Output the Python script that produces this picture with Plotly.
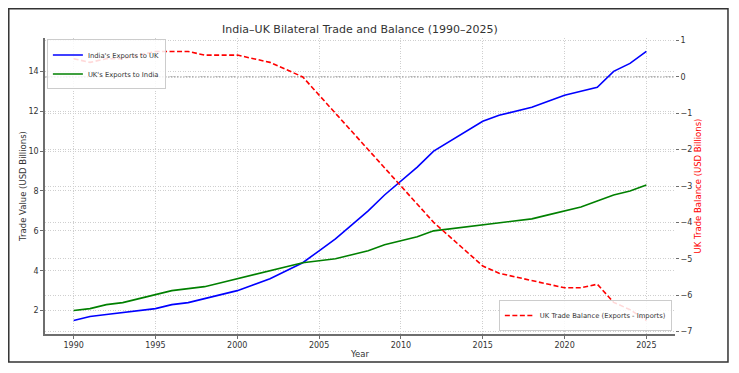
import plotly.graph_objects as go

years = list(range(1990, 2026))
india_exports = [1.5, 1.7, 1.8, 1.9, 2.0, 2.1, 2.3, 2.4, 2.6, 2.8,
                 3.0, 3.3, 3.6, 4.0, 4.4, 5.0, 5.6, 6.3, 7.0, 7.8,
                 8.5, 9.2, 10.0, 10.5, 11.0, 11.5, 11.8, 12.0, 12.2, 12.5,
                 12.8, 13.0, 13.2, 14.0, 14.4, 15.0]
uk_exports = [2.0, 2.1, 2.3, 2.4, 2.6, 2.8, 3.0, 3.1, 3.2, 3.4,
              3.6, 3.8, 4.0, 4.2, 4.4, 4.5, 4.6, 4.8, 5.0, 5.3,
              5.5, 5.7, 6.0, 6.1, 6.2, 6.3, 6.4, 6.5, 6.6, 6.8,
              7.0, 7.2, 7.5, 7.8, 8.0, 8.3]
uk_balance = [0.5, 0.4, 0.5, 0.5, 0.6, 0.7, 0.7, 0.7, 0.6, 0.6,
              0.6, 0.5, 0.4, 0.2, 0.0, -0.5, -1.0, -1.5, -2.0, -2.5,
              -3.0, -3.5, -4.0, -4.4, -4.8, -5.2, -5.4, -5.5, -5.6, -5.7,
              -5.8, -5.8, -5.7, -6.2, -6.4, -6.7]
x_ticks = [1990, 1995, 2000, 2005, 2010, 2015, 2020, 2025]
left_ticks = [2, 4, 6, 8, 10, 12, 14]
right_ticks = [-7, -6, -5, -4, -3, -2, -1, 0, 1]

FONT = "DejaVu Sans"
GRID = "#cfcfcf"
SPINE = "#6e6e6e"

fig = go.Figure()
fig.add_trace(go.Scatter(x=years, y=india_exports, mode="lines", name="India's Exports to UK",
                         line=dict(color="#0000ff", width=1.6), legend="legend"))
fig.add_trace(go.Scatter(x=years, y=uk_exports, mode="lines", name="UK's Exports to India",
                         line=dict(color="#008000", width=1.6), legend="legend"))
fig.add_trace(go.Scatter(x=years, y=uk_balance, mode="lines", name="UK Trade Balance (Exports - Imports)",
                         line=dict(color="#ff0000", width=1.6, dash="5px,2.5px"), yaxis="y2", legend="legend2"))

# page body has an 8px margin: figure is sized/offset to compensate
fig.update_layout(
    width=723, height=357,
    margin=dict(l=37, r=56, t=30, b=31, autoexpand=False),
    paper_bgcolor="white", plot_bgcolor="white",
    font=dict(family=FONT, size=8, color="#333333"),
    title=dict(text="India–UK Bilateral Trade and Balance (1990–2025)",
               font=dict(family=FONT, size=11, color="#333333"),
               x=0.5, xref="paper", xanchor="center",
               y=1, yref="paper", yanchor="bottom", pad=dict(b=5)),
    xaxis=dict(range=[1988.25, 2026.75], tickvals=x_ticks, showgrid=True, gridcolor=GRID,
               griddash="1px,1.5px", gridwidth=1, zeroline=False, showline=True, linecolor=SPINE,
               linewidth=1.5, ticks="outside", ticklen=3, tickcolor=SPINE, automargin=False,
               title=dict(text="Year", font=dict(size=8.5), standoff=2)),
    yaxis=dict(range=[0.825, 15.675], tickvals=left_ticks, showgrid=True, gridcolor=GRID,
               griddash="1px,1.5px", gridwidth=1, zeroline=False, showline=True, linecolor=SPINE,
               linewidth=1.5, ticks="outside", ticklen=3, tickcolor=SPINE, automargin=False,
               title=dict(text="Trade Value (USD Billions)", font=dict(size=8.5), standoff=0)),
    yaxis2=dict(range=[-7.07, 1.07], tickvals=right_ticks, overlaying="y", side="right",
                showgrid=True, gridcolor=GRID, griddash="1px,1.5px", gridwidth=1, zeroline=False,
                showline=False, ticks="outside", ticklen=3, tickcolor=SPINE, automargin=False,
                title=dict(text="UK Trade Balance (USD Billions)", font=dict(size=8.5, color="#ff0000"),
                           standoff=3)),
    legend=dict(x=0.003, y=0.995, xanchor="left", yanchor="top", bgcolor="rgba(255,255,255,0.85)",
                bordercolor="#cccccc", borderwidth=1, font=dict(size=6.8, color="#333333"),
                tracegroupgap=0, itemwidth=30),
    legend2=dict(x=0.995, y=0.01, xanchor="right", yanchor="bottom", bgcolor="rgba(255,255,255,0.85)",
                 bordercolor="#cccccc", borderwidth=1, font=dict(size=6.8, color="#333333"), itemwidth=30),
)
fig.add_shape(type="line", xref="paper", x0=0, x1=1, yref="y2", y0=0, y1=0,
              line=dict(color="#7a7a7a", width=1, dash="1.5px,1.5px"), layer="below")
fig.add_shape(type="rect", xref="paper", yref="paper",
              x0=-0.0575, x1=1.0841, y0=-0.0946, y1=1.0988,
              line=dict(color="#333333", width=1.5), fillcolor="rgba(0,0,0,0)", layer="above")

fig.write_html("out.html")
